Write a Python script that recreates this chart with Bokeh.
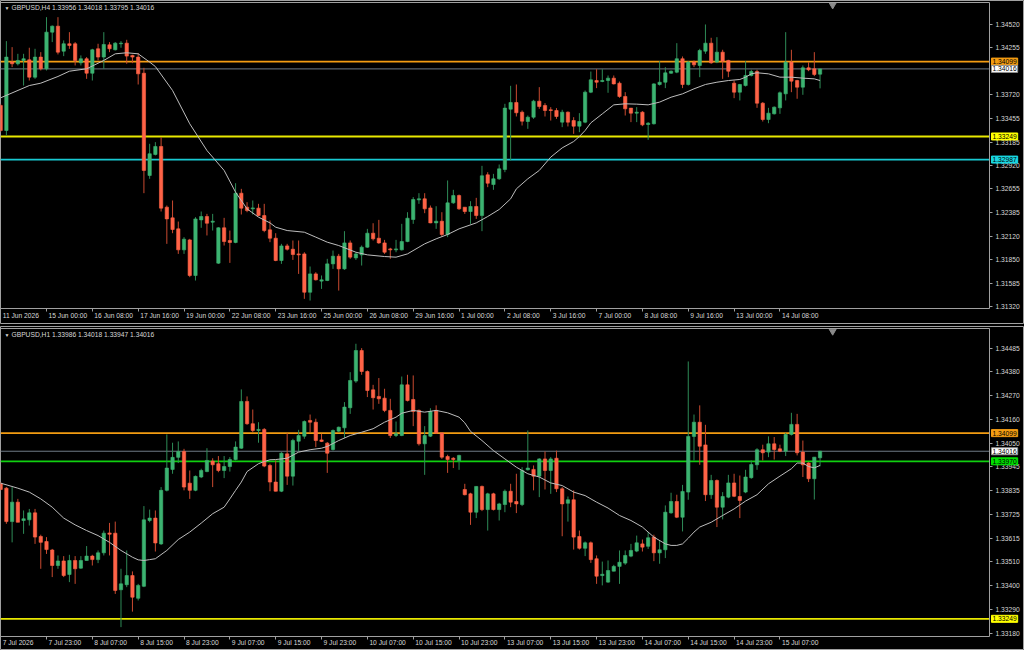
from bokeh.plotting import figure
from bokeh.models import Label, FixedTicker, Range1d, Spacer, PrintfTickFormatter, ColumnDataSource, LinearAxis
from bokeh.layouts import column
from bokeh.embed import file_html
from bokeh.resources import INLINE

# ---------------- data: GBPUSD H4 (top panel) ----------------
h4_open = [1.33601, 1.33317, 1.34093, 1.34074, 1.34112, 1.34119, 1.33922, 1.34150, 1.34017, 1.34433,
           1.34501, 1.34217, 1.34301, 1.34301, 1.34085, 1.34131, 1.33967, 1.34244, 1.34150, 1.34289,
           1.34233, 1.34301, 1.34308, 1.34169, 1.34150, 1.33967, 1.32807, 1.33045, 1.33136, 1.32447,
           1.32326, 1.32201, 1.31963, 1.32076, 1.31672, 1.32303, 1.32341, 1.32277, 1.31812, 1.32213,
           1.32069, 1.32046, 1.32606, 1.32447, 1.32428, 1.32436, 1.32352, 1.32190, 1.32095, 1.31842,
           1.32008, 1.31970, 1.31917, 1.31917, 1.31482, 1.31690, 1.31608, 1.31615, 1.31804, 1.31891,
           1.31747, 1.32042, 1.31872, 1.31906, 1.31993, 1.32152, 1.32095, 1.32042, 1.31974, 1.31963,
           1.31963, 1.32057, 1.32307, 1.32530, 1.32542, 1.32439, 1.32269, 1.32288, 1.32137, 1.32496,
           1.32579, 1.32447, 1.32398, 1.32455, 1.32352, 1.32814, 1.32704, 1.32769, 1.32875, 1.33559,
           1.33635, 1.33525, 1.33419, 1.33468, 1.33650, 1.33601, 1.33552, 1.33544, 1.33412, 1.33525,
           1.33430, 1.33366, 1.33412, 1.33752, 1.33884, 1.33873, 1.33884, 1.33911, 1.33854, 1.33703,
           1.33571, 1.33514, 1.33525, 1.33385, 1.33393, 1.33839, 1.33865, 1.33967, 1.33979, 1.34131,
           1.33839, 1.34093, 1.34055, 1.34217, 1.34308, 1.34093, 1.34206, 1.34112, 1.33854, 1.33752,
           1.33827, 1.33941, 1.33986, 1.33627, 1.33442, 1.33506, 1.33574, 1.33733, 1.34093, 1.33884,
           1.33809, 1.34028, 1.34017, 1.33956]
h4_high = [1.33620, 1.34331, 1.34263, 1.34187, 1.34187, 1.34256, 1.34244, 1.34206, 1.34603, 1.34509,
           1.34603, 1.34339, 1.34433, 1.34320, 1.34169, 1.34150, 1.34244, 1.34301, 1.34433, 1.34320,
           1.34320, 1.34331, 1.34346, 1.34176, 1.34195, 1.34028, 1.33166, 1.33185, 1.33242, 1.32466,
           1.32523, 1.32284, 1.32107, 1.32088, 1.32334, 1.32398, 1.32371, 1.32371, 1.32220, 1.32326,
           1.32182, 1.32719, 1.32655, 1.32504, 1.32523, 1.32485, 1.32485, 1.32296, 1.32152, 1.32031,
           1.32031, 1.32069, 1.32069, 1.31936, 1.31774, 1.31709, 1.31672, 1.31861, 1.31955, 1.31917,
           1.32175, 1.32069, 1.31936, 1.32012, 1.32201, 1.32265, 1.32303, 1.32076, 1.31986, 1.32076,
           1.32258, 1.32390, 1.32561, 1.32606, 1.32606, 1.32466, 1.32458, 1.32390, 1.32750, 1.32644,
           1.32591, 1.32447, 1.32515, 1.32553, 1.32916, 1.32844, 1.32825, 1.32931, 1.33620, 1.33824,
           1.33839, 1.33544, 1.33487, 1.33665, 1.33809, 1.33627, 1.33582, 1.33571, 1.33552, 1.33533,
           1.33468, 1.33514, 1.33771, 1.33986, 1.34013, 1.34013, 1.33941, 1.33941, 1.33873, 1.33752,
           1.33571, 1.33582, 1.33537, 1.33412, 1.33854, 1.34104, 1.34036, 1.33998, 1.34308, 1.34157,
           1.34104, 1.34112, 1.34244, 1.34520, 1.34369, 1.34376, 1.34233, 1.34119, 1.33884, 1.33846,
           1.34104, 1.34006, 1.34006, 1.33639, 1.33574, 1.33590, 1.33760, 1.34433, 1.34233, 1.33892,
           1.34055, 1.34093, 1.34206, 1.34018]
h4_low = [1.33298, 1.33260, 1.34036, 1.34055, 1.33827, 1.33884, 1.33903, 1.33998, 1.33998, 1.34320,
          1.34180, 1.34161, 1.34244, 1.34055, 1.34055, 1.33903, 1.33884, 1.34112, 1.34017, 1.34206,
          1.34225, 1.34256, 1.34074, 1.34081, 1.33839, 1.32606, 1.32769, 1.33034, 1.32398, 1.32031,
          1.32152, 1.31917, 1.31917, 1.31653, 1.31615, 1.32213, 1.32126, 1.32182, 1.31804, 1.32012,
          1.31815, 1.32038, 1.32364, 1.32390, 1.32364, 1.32345, 1.32163, 1.32050, 1.31834, 1.31804,
          1.31955, 1.31849, 1.31690, 1.31407, 1.31388, 1.31615, 1.31520, 1.31608, 1.31747, 1.31501,
          1.31736, 1.31861, 1.31849, 1.31785, 1.31986, 1.32069, 1.32031, 1.31917, 1.31861, 1.31936,
          1.31955, 1.32050, 1.32258, 1.32485, 1.32379, 1.32265, 1.32201, 1.32114, 1.32107, 1.32485,
          1.32417, 1.32371, 1.32258, 1.32314, 1.32175, 1.32674, 1.32644, 1.32757, 1.32844, 1.32977,
          1.33476, 1.33374, 1.33336, 1.33449, 1.33563, 1.33476, 1.33430, 1.33449, 1.33355, 1.33363,
          1.33279, 1.33298, 1.33400, 1.33741, 1.33798, 1.33865, 1.33745, 1.33839, 1.33688, 1.33487,
          1.33412, 1.33412, 1.33366, 1.33211, 1.33385, 1.33827, 1.33798, 1.33960, 1.33967, 1.33798,
          1.33827, 1.34036, 1.33922, 1.34187, 1.34074, 1.34081, 1.33903, 1.33922, 1.33684, 1.33658,
          1.33816, 1.33930, 1.33574, 1.33419, 1.33400, 1.33499, 1.33506, 1.33658, 1.33752, 1.33677,
          1.33722, 1.33990, 1.33934, 1.33795]
h4_close = [1.33317, 1.34150, 1.34074, 1.34112, 1.34131, 1.33922, 1.34150, 1.34017, 1.34433, 1.34501,
            1.34206, 1.34301, 1.34282, 1.34112, 1.34131, 1.33967, 1.34233, 1.34150, 1.34293, 1.34244,
            1.34308, 1.34308, 1.34161, 1.34150, 1.33960, 1.32864, 1.33053, 1.33136, 1.32436, 1.32314,
            1.32194, 1.31963, 1.32084, 1.31672, 1.32314, 1.32341, 1.32265, 1.32288, 1.32213, 1.32057,
            1.32046, 1.32606, 1.32436, 1.32409, 1.32439, 1.32352, 1.32182, 1.32095, 1.31842, 1.32008,
            1.31970, 1.31910, 1.31906, 1.31482, 1.31690, 1.31623, 1.31623, 1.31804, 1.31891, 1.31747,
            1.32042, 1.31880, 1.31917, 1.31993, 1.32152, 1.32088, 1.32042, 1.31936, 1.31963, 1.31974,
            1.32057, 1.32322, 1.32534, 1.32542, 1.32428, 1.32269, 1.32288, 1.32137, 1.32496, 1.32579,
            1.32428, 1.32398, 1.32455, 1.32352, 1.32803, 1.32719, 1.32769, 1.32882, 1.33571, 1.33635,
            1.33518, 1.33423, 1.33468, 1.33650, 1.33589, 1.33544, 1.33544, 1.33476, 1.33525, 1.33412,
            1.33366, 1.33419, 1.33752, 1.33892, 1.33865, 1.33884, 1.33911, 1.33846, 1.33703, 1.33563,
            1.33514, 1.33525, 1.33381, 1.33400, 1.33846, 1.33865, 1.33971, 1.33990, 1.34131, 1.33839,
            1.34093, 1.34062, 1.34225, 1.34308, 1.34085, 1.34206, 1.34104, 1.33990, 1.33752, 1.33839,
            1.33941, 1.33986, 1.33627, 1.33442, 1.33514, 1.33582, 1.33745, 1.34093, 1.33877, 1.33809,
            1.34028, 1.34006, 1.33953, 1.34016]
h4_ma_bar = [0, 5, 7, 10, 12, 15, 18, 20, 22, 24, 26, 27, 30, 33, 36, 39, 41, 43, 45, 47,
             48, 50, 53, 55, 57, 59, 62, 64, 67, 69, 71, 73, 74, 76, 78, 80, 83, 85, 87, 89,
             90, 92, 94, 96, 98, 100, 101, 102, 103, 105, 107, 109, 111, 113, 115, 117, 119, 121, 123, 125,
             127, 129, 130, 131, 132, 134, 136, 138, 140, 142, 143]
h4_ma = [1.33688, 1.33827, 1.33854, 1.33930, 1.33990, 1.34017, 1.34112, 1.34187, 1.34199, 1.34187,
         1.34093, 1.34043, 1.33771, 1.33393, 1.33090, 1.32864, 1.32617, 1.32428, 1.32334, 1.32269,
         1.32220, 1.32182, 1.32163, 1.32107, 1.32050, 1.32012, 1.31936, 1.31906, 1.31887, 1.31880,
         1.31917, 1.31993, 1.32031, 1.32088, 1.32137, 1.32201, 1.32269, 1.32341, 1.32421, 1.32542,
         1.32655, 1.32769, 1.32864, 1.33015, 1.33120, 1.33192, 1.33249, 1.33317, 1.33404, 1.33506,
         1.33608, 1.33620, 1.33616, 1.33608, 1.33639, 1.33695, 1.33733, 1.33790, 1.33839, 1.33865,
         1.33884, 1.33896, 1.33922, 1.33960, 1.33972, 1.33960, 1.33922, 1.33922, 1.33911, 1.33903,
         1.33884]
h4_tick_bars = [0, 8, 16, 24, 32, 40, 48, 56, 64, 72, 80, 88, 96, 104, 112, 120, 128, 136]
h4_tick_labels = ["11 Jun 2026", "15 Jun 00:00", "16 Jun 08:00", "17 Jun 16:00", "19 Jun 00:00",
                  "22 Jun 08:00", "23 Jun 16:00", "25 Jun 00:00", "26 Jun 08:00", "29 Jun 16:00",
                  "1 Jul 00:00", "2 Jul 08:00", "3 Jul 16:00", "7 Jul 00:00", "8 Jul 08:00",
                  "9 Jul 16:00", "13 Jul 00:00", "14 Jul 08:00"]
h4_price_ticks = [1.34520, 1.34255, 1.33720, 1.33455, 1.33185, 1.32920, 1.32655, 1.32385,
                  1.32120, 1.31850, 1.31585, 1.31320]
h4_levels = [1.34099, 1.34016, 1.33249, 1.32987]
h4_level_colors = ["#f39c12", "#6f7b86", "#e8e800", "#19c9d2"]
h4_tag_bg = ["#f39c12", "#ffffff", "#ffff00", "#19d6e0"]
h4_header = "GBPUSD,H4  1.33956 1.34018 1.33795 1.34016"
# price scale of the H4 window: (view bottom, plot bottom, plot top, view top)
h4_scale = (1.31116, 1.31294, 1.34770, 1.34792)

# ---------------- data: GBPUSD H1 (bottom panel) ----------------
h1_open = [1.33867, 1.33847, 1.33694, 1.33783, 1.33699, 1.33702, 1.33734, 1.33626, 1.33603, 1.33564,
           1.33493, 1.33514, 1.33452, 1.33516, 1.33481, 1.33516, 1.33536, 1.33520, 1.33551, 1.33642,
           1.33641, 1.33382, 1.33405, 1.33447, 1.33343, 1.33398, 1.33699, 1.33710, 1.33592, 1.33837,
           1.33933, 1.33988, 1.34015, 1.33870, 1.33837, 1.33898, 1.33923, 1.33971, 1.33959, 1.33928,
           1.33946, 1.33978, 1.34030, 1.34244, 1.34142, 1.34111, 1.34116, 1.33951, 1.33875, 1.33833,
           1.34004, 1.33902, 1.34062, 1.34085, 1.34157, 1.34149, 1.34068, 1.34053, 1.34024, 1.34108,
           1.34123, 1.34215, 1.34337, 1.34477, 1.34381, 1.34297, 1.34267, 1.34259, 1.34203, 1.34088,
           1.34088, 1.34320, 1.34253, 1.34203, 1.34050, 1.34085, 1.34203, 1.34100, 1.33992, 1.33984,
           1.33974, 1.33841, 1.33821, 1.33737, 1.33855, 1.33749, 1.33821, 1.33749, 1.33772, 1.33833,
           1.33786, 1.33772, 1.33931, 1.33933, 1.33902, 1.33981, 1.33928, 1.33984, 1.33844, 1.33778,
           1.33794, 1.33626, 1.33572, 1.33597, 1.33524, 1.33447, 1.33417, 1.33467, 1.33489, 1.33504,
           1.33536, 1.33559, 1.33592, 1.33581, 1.33623, 1.33551, 1.33565, 1.33734, 1.33786, 1.33714,
           1.33829, 1.34084, 1.34149, 1.34045, 1.33817, 1.33882, 1.33760, 1.33806, 1.33871, 1.33809,
           1.33829, 1.33895, 1.33954, 1.34023, 1.34012, 1.34050, 1.34027, 1.34016, 1.34093, 1.34139,
           1.34012, 1.33962, 1.33890, 1.33986]
h1_high = [1.33875, 1.33852, 1.33852, 1.33798, 1.33745, 1.33752, 1.33752, 1.33634, 1.33623, 1.33569,
           1.33539, 1.33536, 1.33542, 1.33536, 1.33536, 1.33582, 1.33542, 1.33562, 1.33653, 1.33688,
           1.33694, 1.33478, 1.33562, 1.33466, 1.33409, 1.33765, 1.33749, 1.33745, 1.33852, 1.34093,
           1.34055, 1.34061, 1.34027, 1.33928, 1.33905, 1.33936, 1.34030, 1.33984, 1.33994, 1.33994,
           1.33989, 1.34061, 1.34299, 1.34267, 1.34207, 1.34149, 1.34122, 1.33959, 1.33974, 1.34012,
           1.34099, 1.34073, 1.34114, 1.34157, 1.34184, 1.34165, 1.34096, 1.34058, 1.34116, 1.34129,
           1.34241, 1.34378, 1.34508, 1.34488, 1.34386, 1.34320, 1.34351, 1.34302, 1.34256, 1.34152,
           1.34358, 1.34366, 1.34363, 1.34207, 1.34131, 1.34213, 1.34226, 1.34103, 1.34000, 1.33989,
           1.34000, 1.33867, 1.33826, 1.33856, 1.33859, 1.33826, 1.33826, 1.33780, 1.33841, 1.33867,
           1.33913, 1.33943, 1.34111, 1.33951, 1.33984, 1.34015, 1.33989, 1.34019, 1.33852, 1.33809,
           1.33837, 1.33653, 1.33603, 1.33603, 1.33539, 1.33511, 1.33516, 1.33496, 1.33562, 1.33562,
           1.33592, 1.33630, 1.33612, 1.33646, 1.33634, 1.33607, 1.33768, 1.33826, 1.33817, 1.33862,
           1.34427, 1.34184, 1.34226, 1.34137, 1.33908, 1.33887, 1.33829, 1.33908, 1.33913, 1.33905,
           1.33931, 1.33974, 1.34030, 1.34046, 1.34084, 1.34081, 1.34046, 1.34100, 1.34192, 1.34187,
           1.34065, 1.33966, 1.33989, 1.34018]
h1_low = [1.33837, 1.33684, 1.33599, 1.33691, 1.33638, 1.33676, 1.33592, 1.33478, 1.33546, 1.33440,
          1.33478, 1.33440, 1.33417, 1.33409, 1.33478, 1.33516, 1.33493, 1.33504, 1.33539, 1.33539,
          1.33363, 1.33211, 1.33394, 1.33282, 1.33333, 1.33394, 1.33691, 1.33557, 1.33587, 1.33832,
          1.33913, 1.33962, 1.33837, 1.33798, 1.33833, 1.33893, 1.33920, 1.33852, 1.33920, 1.33893,
          1.33923, 1.33974, 1.34027, 1.34137, 1.34103, 1.34055, 1.33943, 1.33833, 1.33832, 1.33829,
          1.33862, 1.33859, 1.34016, 1.34073, 1.34103, 1.34035, 1.34058, 1.33917, 1.34019, 1.34103,
          1.34076, 1.34187, 1.34329, 1.34366, 1.34264, 1.34207, 1.34233, 1.34195, 1.34077, 1.34081,
          1.34085, 1.34244, 1.34131, 1.34042, 1.33908, 1.34081, 1.34096, 1.33981, 1.33917, 1.33939,
          1.33931, 1.33814, 1.33679, 1.33710, 1.33742, 1.33653, 1.33745, 1.33699, 1.33737, 1.33760,
          1.33733, 1.33765, 1.33928, 1.33837, 1.33806, 1.33841, 1.33821, 1.33829, 1.33627, 1.33694,
          1.33566, 1.33566, 1.33536, 1.33505, 1.33409, 1.33402, 1.33414, 1.33466, 1.33409, 1.33496,
          1.33531, 1.33554, 1.33557, 1.33569, 1.33513, 1.33501, 1.33527, 1.33730, 1.33710, 1.33649,
          1.33794, 1.33974, 1.33954, 1.33788, 1.33798, 1.33669, 1.33704, 1.33801, 1.33806, 1.33710,
          1.33824, 1.33890, 1.33931, 1.33974, 1.33989, 1.33978, 1.34012, 1.33994, 1.34088, 1.33997,
          1.33898, 1.33875, 1.33795, 1.33947]
h1_close = [1.33841, 1.33694, 1.33783, 1.33691, 1.33707, 1.33734, 1.33623, 1.33599, 1.33566, 1.33493,
            1.33514, 1.33447, 1.33516, 1.33478, 1.33516, 1.33536, 1.33520, 1.33551, 1.33641, 1.33636,
            1.33379, 1.33409, 1.33447, 1.33348, 1.33402, 1.33702, 1.33710, 1.33596, 1.33837, 1.33939,
            1.33988, 1.34015, 1.33852, 1.33837, 1.33901, 1.33928, 1.33974, 1.33954, 1.33928, 1.33946,
            1.33978, 1.34035, 1.34244, 1.34142, 1.34111, 1.34116, 1.33948, 1.33875, 1.33833, 1.34007,
            1.33902, 1.34065, 1.34088, 1.34152, 1.34149, 1.34065, 1.34061, 1.34007, 1.34111, 1.34126,
            1.34218, 1.34340, 1.34477, 1.34381, 1.34294, 1.34261, 1.34256, 1.34203, 1.34088, 1.34096,
            1.34320, 1.34248, 1.34198, 1.34050, 1.34088, 1.34198, 1.34099, 1.33989, 1.33978, 1.33978,
            1.33997, 1.33817, 1.33737, 1.33855, 1.33749, 1.33821, 1.33749, 1.33775, 1.33833, 1.33783,
            1.33775, 1.33928, 1.33939, 1.33902, 1.33981, 1.33928, 1.33981, 1.33844, 1.33775, 1.33794,
            1.33623, 1.33572, 1.33597, 1.33520, 1.33444, 1.33453, 1.33470, 1.33489, 1.33508, 1.33539,
            1.33562, 1.33597, 1.33577, 1.33620, 1.33551, 1.33565, 1.33737, 1.33786, 1.33714, 1.33832,
            1.34084, 1.34149, 1.34039, 1.33817, 1.33882, 1.33760, 1.33809, 1.33871, 1.33810, 1.33791,
            1.33898, 1.33955, 1.34023, 1.34009, 1.34050, 1.34024, 1.34016, 1.34093, 1.34139, 1.34009,
            1.33954, 1.33890, 1.33989, 1.34016]
h1_ma_bar = [0, 3, 5, 7, 9, 11, 13, 15, 17, 19, 21, 23, 24, 25, 26, 27, 29, 31, 33, 35,
             37, 39, 40, 41, 42, 43, 45, 46, 47, 48, 50, 52, 54, 56, 57, 59, 61, 63, 65, 67,
             69, 70, 72, 74, 76, 78, 80, 81, 82, 84, 86, 88, 90, 92, 94, 96, 98, 100, 102, 104,
             106, 108, 110, 112, 114, 116, 117, 118, 119, 120, 121, 122, 124, 126, 128, 130, 132, 134, 136, 138,
             139, 140, 141, 142, 143]
h1_ma = [1.33870, 1.33847, 1.33829, 1.33798, 1.33760, 1.33710, 1.33679, 1.33653, 1.33630, 1.33599,
         1.33562, 1.33531, 1.33519, 1.33516, 1.33520, 1.33524, 1.33562, 1.33612, 1.33646, 1.33687,
         1.33730, 1.33760, 1.33798, 1.33837, 1.33875, 1.33923, 1.33959, 1.33969, 1.33977, 1.33978,
         1.33984, 1.34012, 1.34023, 1.34030, 1.34038, 1.34065, 1.34088, 1.34103, 1.34119, 1.34149,
         1.34172, 1.34190, 1.34203, 1.34195, 1.34203, 1.34192, 1.34172, 1.34146, 1.34107, 1.34065,
         1.34019, 1.33981, 1.33943, 1.33913, 1.33898, 1.33871, 1.33859, 1.33829, 1.33813, 1.33783,
         1.33756, 1.33722, 1.33699, 1.33669, 1.33623, 1.33592, 1.33585, 1.33585, 1.33592, 1.33618,
         1.33646, 1.33669, 1.33691, 1.33722, 1.33752, 1.33788, 1.33817, 1.33867, 1.33902, 1.33936,
         1.33962, 1.33962, 1.33946, 1.33940, 1.33951]
h1_tick_bars = [0, 8, 16, 24, 32, 40, 48, 56, 64, 72, 80, 88, 96, 104, 112, 120, 128, 136]
h1_tick_labels = ["7 Jul 2026", "7 Jul 23:00", "8 Jul 07:00", "8 Jul 15:00", "8 Jul 23:00",
                  "9 Jul 07:00", "9 Jul 15:00", "9 Jul 23:00", "10 Jul 07:00", "10 Jul 15:00",
                  "10 Jul 23:00", "13 Jul 07:00", "13 Jul 15:00", "13 Jul 23:00", "14 Jul 07:00",
                  "14 Jul 15:00", "14 Jul 23:00", "15 Jul 07:00"]
h1_price_ticks = [1.34485, 1.34380, 1.34270, 1.34160, 1.34050, 1.33945, 1.33835, 1.33725,
                  1.33615, 1.33510, 1.33400, 1.33290, 1.33180]
h1_levels = [1.34099, 1.34016, 1.33970, 1.33249]
h1_level_colors = ["#f39c12", "#6f7b86", "#10d010", "#e8e800"]
h1_tag_bg = ["#f39c12", "#ffffff", "#00e000", "#ffff00"]
h1_header = "GBPUSD,H1  1.33986 1.34018 1.33947 1.34016"
h1_scale = (1.33104, 1.33168, 1.34577, 1.34587)

# bar axis: view spans -0.028 .. 178.68 bars, price scale drawn at bar 172.57
BAR_VIEW = (-0.028, 178.68)
SCALE_BAR = 172.57

FONT = "Liberation Sans"
FS = "6.7px"
TXT = "#d8d8d8"
GRID = "#a0a0a0"
W, H = 1024, 324


def panel(o, h, l, c, ma_bar, ma, tick_bars, tick_labels, price_ticks, levels, lcolors, tagbg,
          scale, header, lab_y, head_y):
    n = len(o)
    view_lo, plot_lo, plot_hi, view_hi = scale
    bull = [cc >= oo for oo, cc in zip(o, c)]
    src = ColumnDataSource(dict(
        x=list(range(n)),
        hi=h, lo=l,
        top=[max(a, b) for a, b in zip(o, c)],
        bot=[min(a, b) for a, b in zip(o, c)],
        body=["#3cb371" if b else "#ff6347" for b in bull],
        wick=["#2e8b57" if b else "#c94a30" for b in bull],
    ))
    p = figure(width=W, height=H, output_backend="svg", toolbar_location=None,
               x_range=Range1d(*BAR_VIEW), y_range=Range1d(view_lo, view_hi),
               x_axis_location=None, y_axis_location=None,
               min_border=0, min_border_left=0, min_border_right=0, min_border_top=0, min_border_bottom=0,
               background_fill_color="#000000", border_fill_color="#000000",
               outline_line_color=GRID, outline_line_width=1)
    p.grid.grid_line_color = None

    # level lines (drawn up to the price scale)
    p.segment(x0=[BAR_VIEW[0]] * len(levels), x1=[SCALE_BAR] * len(levels), y0=levels, y1=levels,
              line_color=lcolors, line_width=[1 if col == "#6f7b86" else 1.8 for col in lcolors])
    p.segment(x0="x", y0="lo", x1="x", y1="hi", line_color="wick", line_width=1, source=src)
    p.vbar(x="x", width=0.58, top="top", bottom="bot", fill_color="body", line_color="body",
           line_width=0.6, source=src)
    p.line(ma_bar, ma, line_color="#bdbdbd", line_width=1)
    # chart-shift marker
    p.scatter([n + 1.2], [plot_hi - (plot_hi - plot_lo) * 0.008], marker="inverted_triangle", size=7,
              fill_color="#8a8a8a", line_color="#8a8a8a")

    # price scale
    ya = LinearAxis(fixed_location=SCALE_BAR, bounds=(plot_lo, plot_hi),
                    ticker=FixedTicker(ticks=price_ticks), formatter=PrintfTickFormatter(format="%.5f"))
    ya.major_tick_in = 0
    ya.major_tick_out = 3
    ya.minor_tick_line_color = None
    ya.axis_line_color = GRID
    ya.major_tick_line_color = GRID
    ya.major_label_text_color = TXT
    ya.major_label_text_font = FONT
    ya.major_label_text_font_size = FS
    ya.major_label_standoff = 3
    p.add_layout(ya, "right")

    # time scale (ticks); labels placed left-aligned at each tick below
    xa = LinearAxis(fixed_location=plot_lo, bounds=(BAR_VIEW[0], SCALE_BAR),
                    ticker=FixedTicker(ticks=tick_bars))
    xa.major_label_overrides = {b: "" for b in tick_bars}
    xa.major_tick_in = 0
    xa.major_tick_out = 3
    xa.minor_tick_line_color = None
    xa.axis_line_color = GRID
    xa.major_tick_line_color = GRID
    xa.major_label_text_font_size = "1px"
    p.add_layout(xa, "below")

    # top edge of the plot area
    ta = LinearAxis(fixed_location=plot_hi, bounds=(BAR_VIEW[0], SCALE_BAR), ticker=FixedTicker(ticks=[]))
    ta.axis_line_color = GRID
    ta.major_tick_line_color = None
    ta.minor_tick_line_color = None
    ta.major_label_text_font_size = "1px"
    p.add_layout(ta, "above")

    for b, t in zip(tick_bars, tick_labels):
        p.add_layout(Label(x=b, y=lab_y, x_units="data", y_units="screen", x_offset=2, text=t,
                           text_font=FONT, text_font_size=FS, text_color=TXT,
                           text_align="left", text_baseline="middle"))

    # header text
    p.add_layout(Label(x=4, y=head_y, x_units="screen", y_units="screen", text="\u25bc",
                       text_font=FONT, text_font_size="5px", text_color=TXT, text_baseline="middle"))
    p.add_layout(Label(x=11, y=head_y, x_units="screen", y_units="screen", text=header,
                       text_font=FONT, text_font_size=FS, text_color=TXT, text_baseline="middle"))
    # price tags on the right scale
    for lv, bg in zip(levels, tagbg):
        p.add_layout(Label(x=SCALE_BAR, y=lv, x_units="data", y_units="data", x_offset=2,
                           text=f"{lv:.5f}",
                           text_font=FONT, text_font_size=FS, text_color="#000000",
                           text_baseline="middle", text_align="left",
                           background_fill_color=bg,
                           border_line_color="#909090" if bg == "#ffffff" else bg,
                           padding=1))
    return p


top = panel(h4_open, h4_high, h4_low, h4_close, h4_ma_bar, h4_ma, h4_tick_bars, h4_tick_labels,
            h4_price_ticks, h4_levels, h4_level_colors, h4_tag_bg, h4_scale, h4_header, 9, 317)
bottom = panel(h1_open, h1_high, h1_low, h1_close, h1_ma_bar, h1_ma, h1_tick_bars, h1_tick_labels,
               h1_price_ticks, h1_levels, h1_level_colors, h1_tag_bg, h1_scale, h1_header, 8, 316)

sep = Spacer(width=W, height=2, styles={"background-color": "#000000"})
layout = column(top, sep, bottom, spacing=0, styles={"background-color": "#000000"})

open("out.html", "w").write(file_html(layout, INLINE))
